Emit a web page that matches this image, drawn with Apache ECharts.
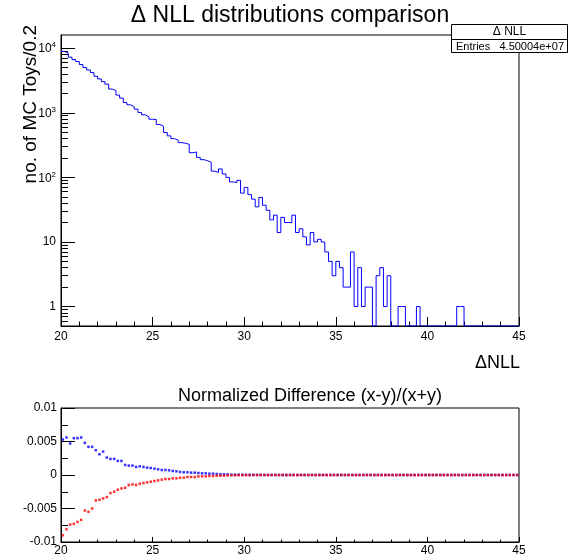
<!DOCTYPE html>
<html>
<head>
<meta charset="utf-8">
<script src="https://cdn.jsdelivr.net/npm/echarts@6/dist/echarts.min.js"></script>
<style>
  html, body { margin: 0; padding: 0; background: #fff; }
  #chart { width: 569px; height: 557px; }
</style>
</head>
<body>
<div id="chart"></div>
<script>
// Histogram binning: 125 bins of width 0.2 between 20 and 45
const X_MIN = 20;
const X_MAX = 45;
const BIN_WIDTH = 0.2;

// Counts per bin of the ΔNLL distribution (MC toys)
const toyCounts = [
  8900, 8360, 7250, 6670, 6210, 5570, 5010, 4600, 4190, 3670,
  3340, 3040, 2780, 2330, 2200, 1880, 1690, 1440, 1330, 1240,
  1140, 1010, 930, 867, 795, 787, 658, 619, 494, 439,
  398, 375, 345, 337, 325, 241, 247, 204, 188, 181,
  171, 125, 119, 135, 113, 100, 85, 83, 90, 57,
  70, 54, 46, 35, 49, 37, 31, 22, 26, 14,
  24, 20, 20, 26, 14, 16, 12, 9, 14, 10,
  11, 10, 7, 5, 3, 5, 4, 2, 2, 7,
  1, 4, 1, 2, 2, 0, 3, 4, 1, 3,
  0, 0, 1, 1, 0, 0, 0, 1, 0, 0,
  0, 0, 0, 0, 0, 0, 0, 0, 1, 1,
  0, 0, 0, 0, 0, 0, 0, 0, 0, 0,
  0, 0, 0, 0, 0
];

// Normalized difference (x-y)/(x+y) per bin, two comparisons
const diffBlue = [
  0.0053, 0.0056, 0.0047, 0.0055, 0.0055, 0.0056, 0.0048, 0.0042, 0.0042, 0.0037,
  0.0031, 0.0035, 0.0026, 0.0024, 0.0024, 0.0021, 0.0021, 0.0015, 0.0014, 0.0014,
  0.0012, 0.0013, 0.0012, 0.0011, 0.00105, 0.00095, 0.00085, 0.00075, 0.00075, 0.0007,
  0.0006, 0.00055, 0.00045, 0.0004, 0.0004, 0.00035, 0.00035, 0.0003, 0.00025, 0.00025,
  0.0002, 0.0002, 0.00015, 0.0001, 0.0001, 0.0001, 0.00005, 0.00005, 0.00005, 0.00003,
  0.00003, 0.00002, 0.00002, 0.00001, 0.00001, 0, 0, 0, 0, 0,
  0, 0, 0, 0, 0, 0, 0, 0, 0, 0,
  0, 0, 0, 0, 0, 0, 0, 0, 0, 0,
  0, 0, 0, 0, 0, 0, 0, 0, 0, 0,
  0, 0, 0, 0, 0, 0, 0, 0, 0, 0,
  0, 0, 0, 0, 0, 0, 0, 0, 0, 0,
  0, 0, 0, 0, 0, 0, 0, 0, 0, 0,
  0, 0, 0, 0, 0
];
const diffRed = [
  -0.0090, -0.0081, -0.0074, -0.0073, -0.0070, -0.0067, -0.0053, -0.0055, -0.0050, -0.0038,
  -0.0037, -0.0035, -0.0033, -0.0027, -0.0025, -0.0022, -0.0020, -0.0019, -0.0015, -0.0014,
  -0.0015, -0.0013, -0.0012, -0.0011, -0.0010, -0.0009, -0.0008, -0.0007, -0.0006, -0.0006,
  -0.0005, -0.0005, -0.0004, -0.0004, -0.0003, -0.0003, -0.0003, -0.0002, -0.0002, -0.0002,
  -0.00015, -0.00015, -0.0001, -0.0001, -0.0001, -0.00005, -0.00005, -0.00005, -0.00003, -0.00003,
  -0.00002, -0.00002, -0.00001, 0, 0, 0, 0, 0, 0, 0,
  0, 0, 0, 0, 0, 0, 0, 0, 0, 0,
  0, 0, 0, 0, 0, 0, 0, 0, 0, 0,
  0, 0, 0, 0, 0, 0, 0, 0, 0, 0,
  0, 0, 0, 0, 0, 0, 0, 0, 0, 0,
  0, 0, 0, 0, 0, 0, 0, 0, 0, 0,
  0, 0, 0, 0, 0, 0, 0, 0, 0, 0,
  0, 0, 0, 0, 0
];

// Axis tick values
const xMajorStep = 5;
const yLogMin = 0.5;
const yLogMax = 16000;
const yDecades = [1, 10, 100, 1000, 10000];
const yMinorLog = [0.6, 0.7, 0.8, 0.9, 2, 3, 4, 5, 6, 7, 8, 9,
  20, 30, 40, 50, 60, 70, 80, 90, 200, 300, 400, 500, 600, 700, 800, 900,
  2000, 3000, 4000, 5000, 6000, 7000, 8000, 9000];
const diffMin = -0.01;
const diffMax = 0.01;
const diffStep = 0.005;

const FONT = '"Liberation Sans", Arial, Helvetica, sans-serif';

// Step outline of the histogram: each bin contributes its two edges.
// Empty bins are drawn on the bottom of the frame, as on a log pad.
const histOutline = [];
toyCounts.forEach(function (c, i) {
  const lo = X_MIN + i * BIN_WIDTH;
  const hi = lo + BIN_WIDTH;
  const y = c > 0 ? c : yLogMin;
  histOutline.push([+lo.toFixed(4), y], [+hi.toFixed(4), y]);
});

function centers(values) {
  return values.map(function (v, i) {
    return [+(X_MIN + (i + 0.5) * BIN_WIDTH).toFixed(4), v];
  });
}

function decadeLabel(v) {
  const e = Math.round(Math.log10(v));
  if (e === 0) return '1';
  if (e === 1) return '10';
  return '{b|10}{s|' + e + '}';
}

const baseText = { color: '#000', fontFamily: FONT };

const chart = echarts.init(document.getElementById('chart'), null, { renderer: 'canvas' });

chart.setOption({
  animation: false,
  backgroundColor: '#fff',
  grid: [
    { left: 61, top: 35, width: 458, height: 291, show: true, borderColor: '#000', borderWidth: 1, backgroundColor: 'transparent' },
    { left: 61, top: 408, width: 458, height: 134, show: true, borderColor: '#000', borderWidth: 1, backgroundColor: 'transparent' }
  ],
  xAxis: [
    {
      gridIndex: 0, type: 'value', min: X_MIN, max: X_MAX, interval: xMajorStep,
      axisLine: { show: true, onZero: false, lineStyle: { color: '#000', width: 1 } },
      axisTick: { show: true, inside: true, length: 9, lineStyle: { color: '#000' } },
      minorTick: { show: true, splitNumber: 5, length: 4.5, lineStyle: { color: '#000' } },
      splitLine: { show: false },
      axisLabel: Object.assign({ fontSize: 12, margin: 5 }, baseText)
    },
    {
      gridIndex: 1, type: 'value', min: X_MIN, max: X_MAX, interval: xMajorStep,
      axisLine: { show: true, onZero: false, lineStyle: { color: '#000', width: 1 } },
      axisTick: { show: true, inside: true, length: 5, lineStyle: { color: '#000' } },
      minorTick: { show: true, splitNumber: 5, length: 2.5, lineStyle: { color: '#000' } },
      splitLine: { show: false },
      axisLabel: Object.assign({ fontSize: 12, margin: 3 }, baseText)
    }
  ],
  yAxis: [
    {
      gridIndex: 0, type: 'log', logBase: 10, min: yLogMin, max: yLogMax,
      axisLine: { show: true, lineStyle: { color: '#000', width: 1 } },
      axisTick: { show: true, inside: true, length: 14, customValues: yDecades, lineStyle: { color: '#000' } },
      splitLine: { show: false },
      axisLabel: Object.assign({
        fontSize: 12, margin: 5, customValues: yDecades,
        formatter: decadeLabel,
        rich: {
          b: { fontSize: 12, fontFamily: FONT, color: '#000', verticalAlign: 'bottom', lineHeight: 14 },
          s: { fontSize: 8, fontFamily: FONT, color: '#000', verticalAlign: 'top', lineHeight: 14, padding: [0, 0, 6, 0] }
        }
      }, baseText)
    },
    {
      gridIndex: 0, type: 'log', logBase: 10, min: yLogMin, max: yLogMax, position: 'left',
      axisLine: { show: false },
      axisTick: { show: true, inside: true, length: 7, customValues: yMinorLog, lineStyle: { color: '#000' } },
      axisLabel: { show: false },
      splitLine: { show: false }
    },
    {
      gridIndex: 1, type: 'value', min: diffMin, max: diffMax, interval: diffStep,
      axisLine: { show: true, lineStyle: { color: '#000', width: 1 } },
      axisTick: { show: true, inside: true, length: 14, lineStyle: { color: '#000' } },
      minorTick: { show: true, splitNumber: 2, length: 7, lineStyle: { color: '#000' } },
      splitLine: { show: false },
      axisLabel: Object.assign({
        fontSize: 12, margin: 4,
        formatter: function (v) { return Math.abs(v) < 1e-12 ? '0' : String(+v.toFixed(3)); }
      }, baseText)
    }
  ],
  series: [
    {
      name: 'ΔNLL', type: 'line', xAxisIndex: 0, yAxisIndex: 0,
      data: histOutline, showSymbol: false, symbol: 'none',
      lineStyle: { color: '#0000ff', width: 1 }, clip: true, z: 3
    },
    {
      name: 'diff blue', type: 'scatter', xAxisIndex: 1, yAxisIndex: 2,
      data: centers(diffBlue), symbol: 'rect', symbolSize: 2.5,
      itemStyle: { color: '#0000ff' }, z: 3
    },
    {
      name: 'diff red', type: 'scatter', xAxisIndex: 1, yAxisIndex: 2,
      data: centers(diffRed), symbol: 'rect', symbolSize: 2.5,
      itemStyle: { color: '#ff0000' }, z: 4
    }
  ],
  graphic: [
    { type: 'text', x: 290, y: 16, z: 10,
      style: { text: 'Δ NLL distributions comparison', font: '23px ' + FONT, fill: '#000', textAlign: 'center', textVerticalAlign: 'middle' } },
    { type: 'text', x: 31, y: 25, rotation: Math.PI / 2, z: 10,
      style: { text: 'no. of MC Toys/0.2', font: '19px ' + FONT, fill: '#000', textAlign: 'right', textVerticalAlign: 'middle' } },
    { type: 'text', x: 520, y: 363, z: 10,
      style: { text: 'ΔNLL', font: '18px ' + FONT, fill: '#000', textAlign: 'right', textVerticalAlign: 'middle' } },
    { type: 'text', x: 310, y: 396, z: 10,
      style: { text: 'Normalized Difference (x-y)/(x+y)', font: '18px ' + FONT, fill: '#000', textAlign: 'center', textVerticalAlign: 'middle' } },
    { type: 'rect', z: 11, shape: { x: 451.5, y: 24.5, width: 116, height: 28 },
      style: { fill: '#fff', stroke: '#000', lineWidth: 1 } },
    { type: 'line', z: 12, shape: { x1: 451.5, y1: 39.5, x2: 567.5, y2: 39.5 },
      style: { stroke: '#000', lineWidth: 1 } },
    { type: 'text', x: 509.5, y: 32, z: 12,
      style: { text: 'Δ NLL', font: '12px ' + FONT, fill: '#000', textAlign: 'center', textVerticalAlign: 'middle' } },
    { type: 'text', x: 456, y: 46.5, z: 12,
      style: { text: 'Entries', font: '11px ' + FONT, fill: '#000', textAlign: 'left', textVerticalAlign: 'middle' } },
    { type: 'text', x: 564, y: 46.5, z: 12,
      style: { text: '4.50004e+07', font: '11px ' + FONT, fill: '#000', textAlign: 'right', textVerticalAlign: 'middle' } }
  ]
});
</script>
</body>
</html>
